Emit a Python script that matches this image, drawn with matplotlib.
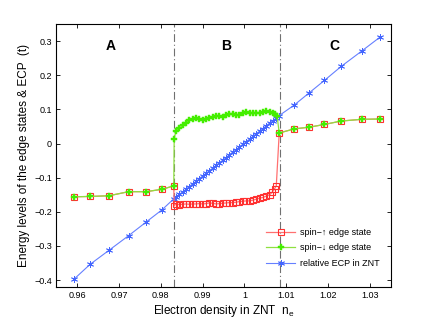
"""Edge-state energy levels and relative ECP versus electron density in ZNT."""

import matplotlib
matplotlib.use("Agg")
import matplotlib.pyplot as plt
from matplotlib.ticker import FixedLocator, FuncFormatter

plt.rcParams["font.family"] = ["Liberation Sans", "DejaVu Sans"]

# ---------------------------------------------------------------------------
# Data
# ---------------------------------------------------------------------------

ecp_x = [0.9593, 0.9631, 0.9676, 0.9723, 0.9765, 0.9803, 0.9831,
         0.9836, 0.9844, 0.9852, 0.9860, 0.9868, 0.9876, 0.9884, 0.9892,
         0.9900, 0.9908, 0.9916, 0.9924, 0.9932, 0.9940, 0.9948, 0.9956,
         0.9964, 0.9972, 0.9980, 0.9988, 0.9996, 1.0004, 1.0012, 1.0020,
         1.0028, 1.0036, 1.0044, 1.0052, 1.0060, 1.0068, 1.0076,
         1.0083, 1.0119, 1.0155, 1.0191, 1.0231, 1.0280, 1.0325]
ecp_y = [-0.397, -0.354, -0.313, -0.270, -0.230, -0.194, -0.162,
         -0.157, -0.149, -0.142, -0.134, -0.126, -0.118, -0.111, -0.103,
         -0.095, -0.087, -0.080, -0.072, -0.064, -0.056, -0.049, -0.041,
         -0.033, -0.025, -0.018, -0.010, -0.002, 0.005, 0.013, 0.021,
         0.029, 0.036, 0.044, 0.052, 0.060, 0.067, 0.075,
         0.082, 0.113, 0.149, 0.185, 0.226, 0.271, 0.313]

up_x = [0.9593, 0.9631, 0.9676, 0.9723, 0.9765, 0.9803, 0.9831,
        0.9832, 0.9836, 0.9844, 0.9852, 0.9860, 0.9868, 0.9876, 0.9884,
        0.9892, 0.9900, 0.9908, 0.9916, 0.9924, 0.9932, 0.9940, 0.9948,
        0.9956, 0.9964, 0.9972, 0.9980, 0.9988, 0.9996, 1.0004, 1.0012,
        1.0020, 1.0028, 1.0036, 1.0044, 1.0052, 1.0060, 1.0066, 1.0072,
        1.0076, 1.0083, 1.0119, 1.0155, 1.0191, 1.0231, 1.0280, 1.0325]
up_y = [-0.156, -0.155, -0.153, -0.141, -0.141, -0.134, -0.124,
        -0.183, -0.176, -0.179, -0.178, -0.177, -0.178, -0.177, -0.177,
        -0.176, -0.177, -0.176, -0.174, -0.175, -0.177, -0.176, -0.175,
        -0.174, -0.173, -0.173, -0.172, -0.170, -0.169, -0.168, -0.168,
        -0.166, -0.163, -0.160, -0.158, -0.154, -0.150, -0.143, -0.132,
        -0.124, 0.031, 0.043, 0.048, 0.056, 0.066, 0.071, 0.072]

down_x = [0.9593, 0.9631, 0.9676, 0.9723, 0.9765, 0.9803, 0.9831,
          0.9832, 0.9836, 0.9844, 0.9852, 0.9860, 0.9868, 0.9876, 0.9884,
          0.9892, 0.9900, 0.9908, 0.9916, 0.9924, 0.9932, 0.9940, 0.9948,
          0.9956, 0.9964, 0.9972, 0.9980, 0.9988, 0.9996, 1.0004, 1.0012,
          1.0020, 1.0028, 1.0036, 1.0044, 1.0052, 1.0060, 1.0068, 1.0074,
          1.0078, 1.0083, 1.0119, 1.0155, 1.0191, 1.0231, 1.0280, 1.0325]
down_y = [-0.156, -0.155, -0.153, -0.141, -0.141, -0.134, -0.124,
          0.014, 0.036, 0.045, 0.053, 0.060, 0.068, 0.072, 0.074,
          0.071, 0.069, 0.073, 0.076, 0.079, 0.082, 0.080, 0.079,
          0.085, 0.087, 0.086, 0.084, 0.084, 0.090, 0.092, 0.091,
          0.090, 0.089, 0.090, 0.092, 0.094, 0.092, 0.091, 0.086,
          0.080, 0.031, 0.043, 0.048, 0.056, 0.066, 0.071, 0.072]

boundaries = [0.9832, 1.0084]
region_labels = ["A", "B", "C"]
region_x = [0.968, 0.9955, 1.0214]

x_ticks = [0.96, 0.97, 0.98, 0.99, 1.00, 1.01, 1.02, 1.03]
y_ticks = [-0.4, -0.3, -0.2, -0.1, 0.0, 0.1, 0.2, 0.3]


def fmt_tick(v, _pos):
    return f"{v:g}".replace("-", "\u2212")


# ---------------------------------------------------------------------------
# Plot
# ---------------------------------------------------------------------------

fig = plt.figure(figsize=(4.32, 3.26), dpi=100)
ax = fig.add_axes([0.130, 0.120, 0.775, 0.806])

for xb in boundaries:
    ax.axvline(xb, color="#707070", linestyle=(0, (7, 2.5, 1, 2.5)), lw=0.8, zorder=1)

ax.plot(up_x, up_y, color="#ff7070", lw=0.9, marker="s", ms=4.5,
        mfc="none", mec="#ff3030", mew=0.8, label="spin\u2212\u2191 edge state", zorder=3)
ax.plot(down_x, down_y, color="#8fe040", lw=0.9, marker="P", ms=4.3,
        mfc="#44ee00", mec="#44ee00", mew=0.3, label="spin\u2212\u2193 edge state", zorder=4)
ax.plot(ecp_x, ecp_y, color="#6680ff", lw=0.8, marker=(6, 2, 0), ms=5,
        mec="#4466ff", mew=0.6, label="relative ECP in ZNT", zorder=2)

for lab, xr in zip(region_labels, region_x):
    ax.text(xr, 0.285, lab, fontsize=10, fontweight="bold", ha="center", va="center")

ax.set_xlim(0.955, 1.035)
ax.set_ylim(-0.42, 0.35)
ax.xaxis.set_major_locator(FixedLocator(x_ticks))
ax.yaxis.set_major_locator(FixedLocator(y_ticks))
ax.xaxis.set_major_formatter(FuncFormatter(fmt_tick))
ax.yaxis.set_major_formatter(FuncFormatter(fmt_tick))
ax.tick_params(direction="in", top=True, right=True, labelsize=6.5,
               length=3, width=0.6, pad=3)
for sp in ax.spines.values():
    sp.set_linewidth(0.8)

ax.set_xlabel("Electron density in ZNT  n$_\\mathregular{e}$", fontsize=8.5, labelpad=2)
ax.set_ylabel("Energy levels of the edge states & ECP  (t)", fontsize=8.5, labelpad=3)

ax.legend(loc="lower right", bbox_to_anchor=(0.99, 0.04), frameon=False,
          fontsize=6.5, handlelength=3.2, labelspacing=0.75, handletextpad=0.5)

fig.savefig("out.png", dpi=100)
